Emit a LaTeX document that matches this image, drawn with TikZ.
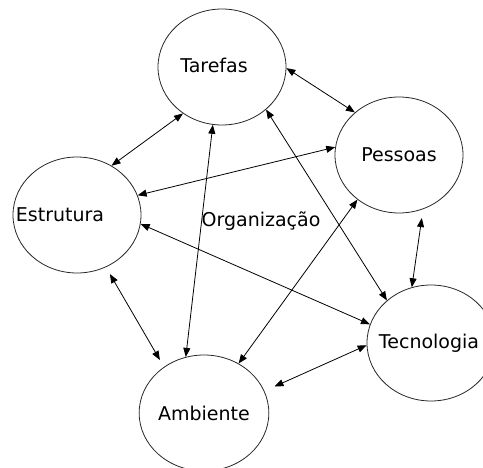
\documentclass[tikz,border=0pt]{standalone}
\usepackage{fontspec}
\setmainfont{DejaVu Sans}
\usetikzlibrary{shapes.geometric, arrows.meta}

\tikzset{
  bubble/.style={ellipse, draw=black!85, line width=0.8pt, minimum width=128pt, minimum height=116pt, inner sep=0pt},
  link/.style={<->, >={Triangle[length=9pt,width=7pt]}, line width=0.8pt},
}

\begin{document}
\begin{tikzpicture}[x=1pt, y=-1pt, font=\fontsize{19}{21}\selectfont]
  \clip (0,0) rectangle (483,468);

  % Draw ellipses
  \node[bubble, label={[xshift=-8pt, yshift=2pt]center:Tarefas}] (tarefas) at (222,67) {};
  \node[bubble] (pessoas) at (399,155) {Pessoas};
  \node[bubble, label={[xshift=-17pt]center:Estrutura}] (estrutura) at (77,215) {};
  \node[bubble, label={[xshift=-2pt]center:Tecnologia}] (tecnologia) at (431,343) {};
  \node[bubble] (ambiente) at (204,413) {Ambiente};

  \node (org) at (261,221) {Organização};

  % Draw links
  \draw[link] (tarefas.-1) -- (pessoas.136);
  \draw[link] (tarefas.230) -- (estrutura.55);
  \draw[link] (pessoas.173) -- (estrutura.18);
  \draw[link] (tarefas.261) -- (ambiente.108);
  \draw[link] (tarefas.316) -- (tecnologia.136);
  \draw[link] (estrutura.352) -- (tecnologia.163);
  \draw[link] (pessoas.227) -- (ambiente.55);
  \draw[link, shorten <=9pt] (pessoas.294) -- (tecnologia.109);
  \draw[link, shorten <=8pt, shorten >=8pt] (estrutura.299) -- (ambiente.131);
  \draw[link, shorten <=11pt] (ambiente.20) -- (tecnologia.182);

\end{tikzpicture}
\end{document}
